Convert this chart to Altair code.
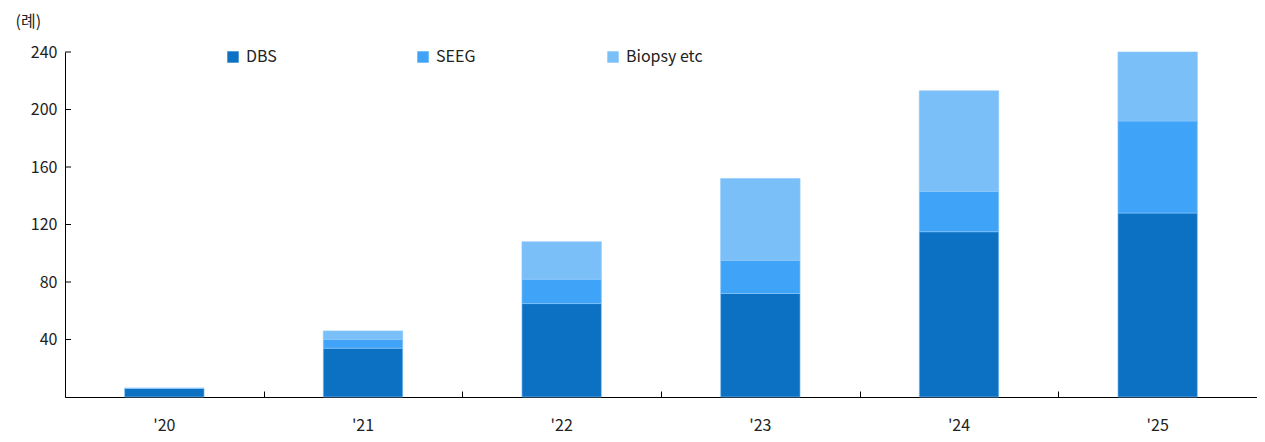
import altair as alt
import pandas as pd

years = ["'20", "'21", "'22", "'23", "'24", "'25"]
series = ["DBS", "SEEG", "Biopsy etc"]
dbs = [6, 34, 65, 72, 115, 128]
seeg = [0, 6, 17, 23, 28, 64]
biopsy = [0, 6, 26, 57, 70, 48]
colors = ["#0C71C3", "#3FA4F7", "#7BBFF9"]
yticks = [40, 80, 120, 160, 200, 240]

rows = []
for i, y in enumerate(years):
    for k, (s, vals) in enumerate(zip(series, [dbs, seeg, biopsy])):
        rows.append({"year": y, "series": s, "value": vals[i], "order": k})
df = pd.DataFrame(rows)
tick_df = pd.DataFrame({"v": yticks})
year_df = pd.DataFrame({"year": years})

FONT = "Noto Sans CJK KR"

x_enc = alt.X("year:N", sort=years, title=None,
              scale=alt.Scale(paddingInner=0.6, paddingOuter=0.3),
              axis=alt.Axis(labelAngle=0, labelFontSize=16, labelColor="#222",
                            labelFont=FONT, labelPadding=20, domainColor="#000",
                            ticks=False, orient="bottom"))

bars = alt.Chart(df).mark_bar(stroke="#8cc8fa", strokeWidth=0.6).encode(
    x=x_enc,
    y=alt.Y("value:Q", stack="zero", title="(례)",
            scale=alt.Scale(domain=[0, 240], nice=False),
            axis=alt.Axis(values=yticks, labelFontSize=16, labelColor="#222",
                          labelFont=FONT, labelPadding=8, tickSize=0,
                          domainColor="#000", grid=False,
                          titleAngle=0, titleFontSize=16, titleFontWeight="normal",
                          titleColor="#222", titleFont=FONT, titleAlign="left",
                          titleBaseline="top", titleX=-50, titleY=-39)),
    color=alt.Color("series:N", sort=series,
                    scale=alt.Scale(domain=series, range=colors),
                    legend=alt.Legend(title=None, orient="none", legendX=160, legendY=-3,
                                      direction="horizontal", columns=3,
                                      gridAlign="all", columnPadding=92,
                                      symbolType="square", symbolSize=130,
                                      symbolStrokeWidth=0, labelFontSize=16,
                                      labelFont=FONT, labelColor="#222",
                                      labelOffset=5)),
    order=alt.Order("order:Q"),
)

xticks = alt.Chart(year_df).mark_rule(opacity=0).encode(
    x=alt.X("year:N", sort=years, title=None,
            scale=alt.Scale(paddingInner=0, paddingOuter=0),
            axis=alt.Axis(orient="bottom", offset=-6, domain=False, labels=False,
                          tickBand="extent", tickSize=6, tickColor="#000",
                          tickWidth=1)),
)

yt = alt.Chart(tick_df).mark_rule(color="#000", strokeWidth=1).encode(
    y=alt.Y("v:Q", scale=alt.Scale(domain=[0, 240], nice=False)),
    x=alt.value(0), x2=alt.value(6),
)

chart = alt.layer(bars, xticks, yt).resolve_scale(x="independent").resolve_axis(
    x="independent").properties(
    width=1192, height=345,
    autosize=alt.AutoSizeParams(type="none"),
    padding={"left": 57, "top": 44, "right": 0, "bottom": 40},
).configure(font=FONT).configure_view(strokeWidth=0, stroke="transparent")

chart.save("out.html", embed_options={"renderer": "svg", "actions": False})
